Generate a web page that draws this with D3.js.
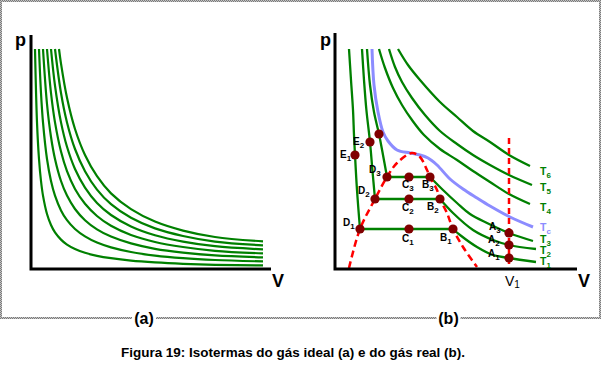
<!DOCTYPE html>
<html><head><meta charset="utf-8">
<script src="https://cdn.jsdelivr.net/npm/d3@7"></script>
<style>body{margin:0;background:#fff}svg{display:block}</style>
</head><body>
<svg id="c" width="603" height="368"></svg>
<script>
// ---------- DATA (arbitrary units) ----------
// (a) ideal gas isotherms, [V, p]
const ideal1 = [[2,110],[3,73.3],[4,55],[5,44],[6,36.7],[8,27.5],[10,22],[12,18.3],[15,14.7],[18,12.2],[22,10],[27,8.1],[33,6.6],[40,5.4],[50,4.2],[62,3.3],[76,2.6],[92,2.1],[116,1.8]];
const ideal2 = [[4,110],[5,88],[6,73.3],[8,55],[10,44],[12,36.7],[15,29.3],[18,24.4],[22,20],[27,16.3],[33,13.2],[40,10.8],[50,8.5],[62,6.7],[76,5.4],[92,4.5],[116,3.8]];
const ideal3 = [[6,110],[8,82.5],[10,66],[12,55],[15,44],[18,36.7],[22,30],[27,24.4],[33,19.8],[40,16.2],[50,12.8],[62,10.1],[76,8.2],[92,6.8],[116,5.8]];
const ideal4 = [[8,110],[10,88],[12,73.3],[15,58.7],[18,48.9],[22,40],[27,32.6],[33,26.5],[40,21.6],[50,17],[62,13.5],[76,11],[92,9.1],[116,7.8]];
const ideal5 = [[10,110],[12,91.7],[15,73.3],[18,61.1],[22,50],[27,40.7],[33,33],[40,27],[50,21.3],[62,16.9],[76,13.7],[92,11.4],[116,9.8]];
const ideal6 = [[12,110],[15,88],[18,73.3],[22,60],[27,48.9],[33,39.7],[40,32.4],[50,25.6],[62,20.3],[76,16.5],[92,13.7],[116,11.8]];
const ideal7 = [[14,110],[15,102.7],[18,85.6],[22,70],[27,57],[33,46.4],[40,37.8],[50,29.9],[62,23.7],[76,19.2],[92,16],[116,13.8]];
const idealCurves = [ideal1, ideal2, ideal3, ideal4, ideal5, ideal6, ideal7];

// (b) real gas isotherms, [V, p]; T1..T3 have a liquid branch, a plateau and a vapour branch
const realT1Liquid = [[7,110],[8,94.5],[9,79.5],[9.5,67],[10,57],[11,39.5],[12.5,20]];
const realT1Vapour = [[59,20],[62.5,17],[71,11],[79,7],[87,5.5],[100.5,3.5]];
const realT2Liquid = [[13.5,110],[14.5,94.5],[15.7,79.5],[17.5,63.5],[18.7,49.5],[20,35]];
const realT2Vapour = [[52.5,35],[59,28],[69,19.5],[79,14.5],[87,12],[100.5,10]];
const realT3Liquid = [[16,110],[17.5,92],[19.5,78.5],[22,67.5],[24,57],[26,46]];
const realT3Vapour = [[47.5,46],[54,39.5],[61,33],[67.5,27.5],[76,23],[87,18],[99,14]];
const realTc = [[18.5,110],[19.5,92],[21.5,78.5],[24,68.5],[26.5,64],[31,59.5],[37.5,58],[42.5,57],[46.5,55.5],[51,52],[57.5,45],[64,40],[71,35.5],[77.5,31.5],[87.5,26],[99,21]];
const realT4 = [[22,110],[25,100.5],[29,90.5],[33.5,82],[38.5,74.5],[44.5,67],[52.5,60],[61,54.5],[69,49],[77.5,43.5],[87,37.5],[97.5,32.5]];
const realT5 = [[27,110],[30,101],[33.5,93.5],[38.5,85.5],[45,77],[52.5,69],[61,62.5],[69,57],[77.5,52],[87,47],[98.5,42]];
const realT6 = [[31.5,110],[36.5,102],[42.5,94.5],[52.5,83.5],[61,76],[69,69],[77.5,63.5],[87,57],[97.5,51.5]];
const coexistDome = [[7,0.5],[12.5,20],[20,35],[26,46],[31,53],[38.5,58],[42.5,56],[46,49.5],[47.5,46],[51,39.5],[52.5,35],[56,28],[59,20],[64,11],[71,1]];
const volumeV1 = 87;
const volumeV1Top = 65.5;

const pointNames = ["A1","A2","A3","B1","B2","B3","C1","C2","C3","D1","D2","D3","E1","E2",""];
const pointV     = [87, 87, 87, 59, 52.5, 47.5, 37, 37, 37, 12.5, 20, 26, 10, 17.5, 22];
const pointP     = [5.5, 12, 18, 20, 35, 46, 20, 35, 46, 20, 35, 46, 57, 63.5, 67.5];

const isoLabels = ["T6","T5","T4","Tc","T3","T2","T1"];
const isoLabelP = [47, 39, 29, 19, 13, 7.5, 2];

const caption = "Figura 19: Isotermas do gás ideal (a) e do gás real (b).";

// ---------- DRAWING ----------
const svg = d3.select("#c");
const GREEN = "#008000", BLUE = "#8c8cff", RED = "#ff0000", DOT = "#800000";
const FONT = "Liberation Sans, Arial, sans-serif";

// dithered frame pattern
const defs = svg.append("defs");
const pat = defs.append("pattern").attr("id","dith").attr("width",2).attr("height",2).attr("patternUnits","userSpaceOnUse");
pat.append("rect").attr("width",2).attr("height",2).attr("fill","#c4c4c4");
pat.append("rect").attr("width",1).attr("height",1).attr("fill","#7a7a7a");
pat.append("rect").attr("x",1).attr("y",1).attr("width",1).attr("height",1).attr("fill","#7a7a7a");

// frame
[[0,0,601,2],[0,0,2,319],[599,0,2,319],[0,317,601,2]].forEach(r=>{
  svg.append("rect").attr("x",r[0]).attr("y",r[1]).attr("width",r[2]).attr("height",r[3]).attr("fill","url(#dith)");
});

function subLabel(g, x, y, main, sub, opts) {
  const t = g.append("text").attr("x",x).attr("y",y)
    .attr("font-family",FONT).attr("font-weight",opts.weight||"bold")
    .attr("font-size",opts.size).attr("fill",opts.color||"#000");
  t.append("tspan").text(main);
  if (sub) t.append("tspan").attr("font-size",opts.subSize).attr("dy",opts.subDy).text(sub);
  return t;
}

// ----- panel (a) -----
const xA = d3.scaleLinear().domain([0,120]).range([31,271]);
const yA = d3.scaleLinear().domain([0,117]).range([269,35]);
const gA = svg.append("g");
const lineA = d3.line().x(d=>xA(d[0])).y(d=>yA(d[1])).curve(d3.curveCatmullRom.alpha(0.5));
gA.selectAll("path.iso").data(idealCurves).join("path").attr("class","iso")
  .attr("d",lineA).attr("fill","none").attr("stroke",GREEN).attr("stroke-width",2.2);
gA.append("path").attr("d",`M${xA(0)},${yA(117)}V${yA(0)}H${xA(120)}`)
  .attr("fill","none").attr("stroke","#000").attr("stroke-width",3);
gA.append("text").attr("x",15).attr("y",46).attr("font-family",FONT)
  .attr("font-weight","bold").attr("font-size",18).text("p");
gA.append("text").attr("x",272).attr("y",287).attr("font-family",FONT)
  .attr("font-weight","bold").attr("font-size",18).text("V");

// ----- panel (b) -----
const xB = d3.scaleLinear().domain([0,121]).range([335,577]);
const yB = d3.scaleLinear().domain([0,118]).range([269,33]);
const gB = svg.append("g");
const lineB = d3.line().x(d=>xB(d[0])).y(d=>yB(d[1])).curve(d3.curveCatmullRom.alpha(0.5));
const straight = d3.line().x(d=>xB(d[0])).y(d=>yB(d[1]));

const greenSmooth = [realT1Liquid, realT1Vapour, realT2Liquid, realT2Vapour, realT3Liquid, realT3Vapour, realT4, realT5, realT6];
gB.selectAll("path.iso").data(greenSmooth).join("path").attr("class","iso")
  .attr("d",lineB).attr("fill","none").attr("stroke",GREEN).attr("stroke-width",2.3);
const plateaus = [[realT1Liquid.at(-1), realT1Vapour[0]], [realT2Liquid.at(-1), realT2Vapour[0]], [realT3Liquid.at(-1), realT3Vapour[0]]];
gB.selectAll("path.plat").data(plateaus).join("path").attr("class","plat")
  .attr("d",straight).attr("fill","none").attr("stroke",GREEN).attr("stroke-width",2.3);
gB.append("path").attr("d",lineB(realTc)).attr("fill","none").attr("stroke",BLUE).attr("stroke-width",3);

// coexistence dome & V1 line
gB.append("path").attr("d",lineB(coexistDome)).attr("fill","none").attr("stroke",RED)
  .attr("stroke-width",2.5).attr("stroke-dasharray","7,4");
gB.append("path").attr("d",straight([[volumeV1,volumeV1Top],[volumeV1,0]])).attr("fill","none").attr("stroke",RED)
  .attr("stroke-width",2.5).attr("stroke-dasharray","6,4");

// axes
gB.append("path").attr("d",`M${xB(0)},${yB(118)}V${yB(0)}H${xB(121)}`)
  .attr("fill","none").attr("stroke","#000").attr("stroke-width",3);

// points
gB.selectAll("circle.pt").data(pointV.map((v,i)=>[v,pointP[i]])).join("circle").attr("class","pt")
  .attr("cx",d=>xB(d[0])).attr("cy",d=>yB(d[1])).attr("r",4.6).attr("fill",DOT);

// point labels (offsets in px from the dot)
const labelOffset = {A1:[-21,-1],A2:[-21,-2],A3:[-20,-3],B1:[-13,12],B2:[-13,11],B3:[-8,11],
  C1:[-7,13],C2:[-7,12],C3:[-7,11],D1:[-17,-3],D2:[-17,-5],D3:[-18,-4],E1:[-15,3],E2:[-17,3]};
pointNames.forEach((n,i)=>{
  if(!n) return;
  const o = labelOffset[n];
  subLabel(gB, xB(pointV[i])+o[0], yB(pointP[i])+o[1], n[0], n.slice(1), {size:10, subSize:8, subDy:2.5});
});

// isotherm labels
isoLabels.forEach((n,i)=>{
  const isC = n==="Tc";
  subLabel(gB, 540, yB(isoLabelP[i]), "T", n.slice(1), {size:10.5, subSize:8, subDy:2.5, color: isC?BLUE:GREEN});
});

gB.append("text").attr("x",320).attr("y",46).attr("font-family",FONT)
  .attr("font-weight","bold").attr("font-size",18).text("p");
gB.append("text").attr("x",578).attr("y",287).attr("font-family",FONT)
  .attr("font-weight","bold").attr("font-size",18).text("V");
subLabel(gB, 505, 286, "V", "1", {size:14, subSize:10, subDy:2, weight:"normal"});

// panel captions on the frame
[["(a)",144],["(b)",448.5]].forEach(([t,x])=>{
  svg.append("rect").attr("x",x-12).attr("y",310).attr("width",24).attr("height",18).attr("fill","#fff");
  svg.append("text").attr("x",x).attr("y",324).attr("text-anchor","middle")
    .attr("font-family",FONT).attr("font-weight","bold").attr("font-size",16).text(t);
});

svg.append("text").attr("x",293).attr("y",357).attr("text-anchor","middle")
  .attr("font-family",FONT).attr("font-weight","bold").attr("font-size",13)
  .attr("textLength",344).attr("lengthAdjust","spacingAndGlyphs").text(caption);
</script>
</body></html>
